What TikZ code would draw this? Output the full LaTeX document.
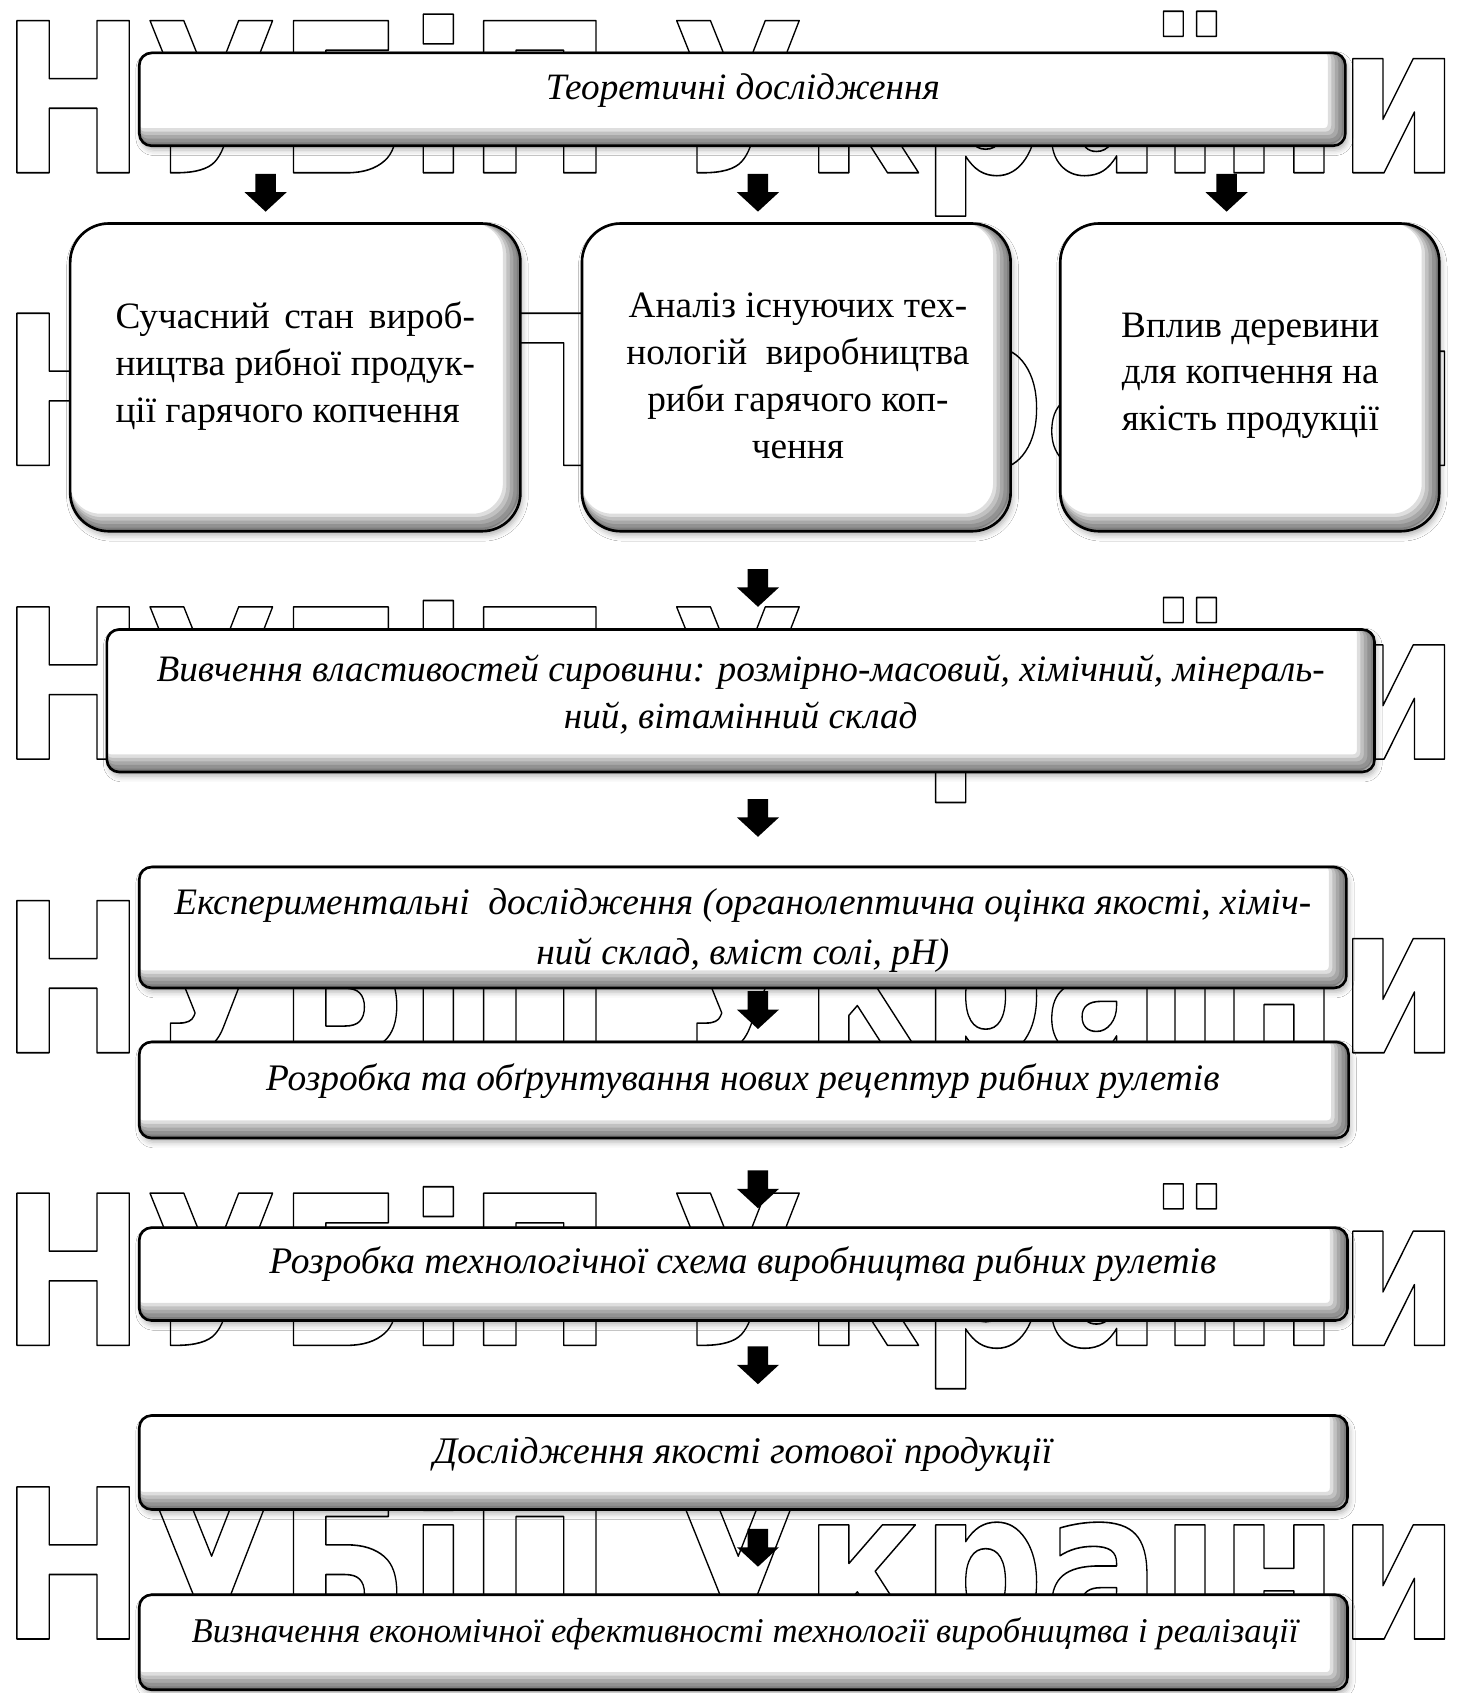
\documentclass[tikz,border=0pt]{standalone}
\usepackage{fontspec}
\setmainfont{Liberation Serif}
\newfontfamily\wmfont{DejaVu Sans}
\usetikzlibrary{calc,shadows.blur}
\newlength\U \setlength\U{0.108mm}
\newcommand\wmline{\resizebox{1350\U}{\height}{\wmfont\bfseries\fontsize{59.4}{60}\selectfont\special{pdf:literal direct 1 Tr 0.45 w 1 j}НУБіП України\special{pdf:literal direct 0 Tr}}}
\newcommand\fitw[2]{\resizebox{#1\U}{!}{#2}}
\tikzset{
  wm/.style={anchor=base west, inner sep=0pt, outer sep=0pt},
  inshade/.style={path picture={
    \foreach \d in {0.5,1.0,1.5,2.0,2.5}{
      \draw[line width={2*\d pt}, black, opacity=0.13, rounded corners=#1]
        ($(path picture bounding box.south west)+(-\d pt,\d pt)$) rectangle
        ($(path picture bounding box.north east)+(-\d pt,\d pt)$);}}},
  flatbox/.style={draw=black, line width=0.75pt, fill=white, rounded corners=3.5pt, inner sep=0pt,
    blur shadow={shadow xshift=0.6pt, shadow yshift=-1.2pt, shadow blur radius=1.6pt, shadow opacity=30},
    inshade=3.5pt},
  bigbox/.style={flatbox, rounded corners=11pt, inshade=11pt},
  itx/.style={inner sep=0pt, font=\itshape},
  rmx/.style={inner sep=0pt, align=center, font=\fontsize{10.6}{13.3}\selectfont},
  blockarrow/.style={fill=black}
}
\newcommand\bx[6]{\node[#1, minimum width={(#4-#2)*\U}, minimum height={(#5-#3)*\U}] (#6) at ({(#2+#4)/2},{(#3+#5)/2}) {};}
\begin{document}
\begin{tikzpicture}[x=0.108mm, y=-0.108mm]
\useasboundingbox (0,0) rectangle (1352,1568);
\fill[white] (0,0) rectangle (1352,1568);
% watermark
\foreach \r/\yy in {1/160,2/431,3/703,4/975,5/1246,6/1518}
  \node[wm] (wm\r) at (1,\yy) {\wmline};
% boxes
\bx{flatbox}{129}{49}{1246}{135}{b1}
\bx{bigbox}{65}{207}{482}{492}{b2a}
\bx{bigbox}{539}{207}{936}{492}{b2b}
\bx{bigbox}{982}{207}{1333}{492}{b2c}
\bx{flatbox}{99}{583}{1273}{715}{b3}
\bx{flatbox}{129}{803}{1247}{915}{b4}
\bx{flatbox}{129}{965}{1249}{1054}{b5}
\bx{flatbox}{129}{1137}{1248}{1223}{b6}
\bx{flatbox}{129}{1311}{1248}{1398}{b7}
\bx{flatbox}{129}{1477}{1248}{1565}{b8}
% texts
\node[itx] (t1) at (688,84) {\fitw{365}{Теоретичні дослідження}};
\node[rmx] (t2a) at (273.5,339) {\makebox[333\U][s]{Сучасний стан вироб-}\\\makebox[333\U][s]{ництва рибної продук-}\\\makebox[333\U][l]{ції гарячого копчення}};
\node[rmx] (t2b) at (739,348) {Аналіз існуючих тех-\\нологій\ \ виробництва\\риби гарячого коп-\\чення};
\node[rmx] (t2c) at (1158,348) {Вплив деревини\\для копчення на\\якість продукції};
\node[itx] (t3) at (686,644) {\def\arraystretch{1.06}\fitw{1082}{\begin{tabular}{@{}c@{}}Вивчення властивостей сировини: розмірно-масовий, хімічний, мінераль-\\ний, вітамінний склад\end{tabular}}};
\node[itx] (t4) at (688,861) {\def\arraystretch{1.1}\fitw{1053}{\begin{tabular}{@{}c@{}}Експериментальні\ \ дослідження (органолептична оцінка якості, хіміч-\\ний склад, вміст солі, pH)\end{tabular}}};
\node[itx] (t5) at (688,1001) {\fitw{883}{Розробка та обґрунтування нових рецептур рибних рулетів}};
\node[itx] (t6) at (688,1171) {\fitw{877}{Розробка технологічної схема виробництва рибних рулетів}};
\node[itx] (t7) at (688,1347) {\fitw{573}{Дослідження якості готової продукції}};
\node[itx] (t8) at (690,1513) {\fitw{1025}{Визначення економічної ефективності технології виробництва і реалізації}};
% block arrows
\foreach \nm/\xx/\yy in {a1/246/161, a2/702/161, a3/1136/161, a4/702/527, a5/702/740, a6/702/918, a7/702/1084, a8/702/1247, a9/702/1416}{
  \coordinate (\nm) at (\xx,\yy);
  \fill[blockarrow] (\nm) ++(-9.5,0) -- ++(19,0) -- ++(0,17) -- ++(10,0) -- ++(-19.5,18) -- ++(-19.5,-18) -- ++(10,0) -- cycle;
}
\end{tikzpicture}
\end{document}
